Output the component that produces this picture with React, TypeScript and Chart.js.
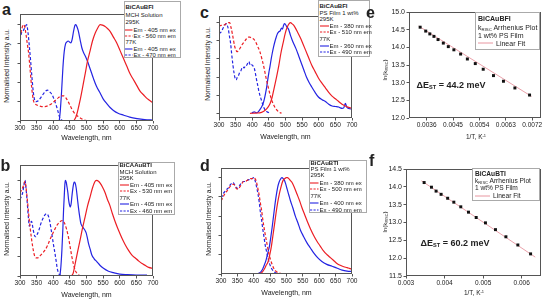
import React, { useEffect, useRef } from "react";
import { Chart, registerables } from "chart.js";
Chart.register(...registerables);

const FONT = "'Liberation Sans', Arial, Helvetica, sans-serif";
const RED = "rgb(236,30,36)";
const BLUE = "rgb(36,36,226)";
const FITC = "rgb(232,150,160)";

type Pt = [number, number];

// ---- tick labels ----
const wavelengthTicks = [300, 350, 400, 450, 500, 550, 600, 650, 700];
const intensityTicks = [0, 0.2, 0.4, 0.6, 0.8, 1.0];
const eXTicks = [0.0036, 0.0045, 0.0054, 0.0063, 0.0072];
const eYTicks = [12, 12.5, 13, 13.5, 14, 14.5, 15];
const fXTicks = [0.003, 0.004, 0.005, 0.006];
const fYTicks = [11.5, 12, 12.5, 13, 13.5, 14, 14.5];

// ---- panel a : BiCAuBFI, MCH solution ----
const aEm295: Pt[] = [[462,0],[470,0.06],[481,0.22],[490,0.38],[496,0.49],[503,0.62],[511,0.73],[518,0.83],[526,0.91],[533,0.96],[541,1.0],[548,0.995],[556,0.98],[563,0.96],[571,0.93],[581,0.87],[591,0.81],[601,0.73],[611,0.65],[621,0.57],[631,0.49],[641,0.43],[651,0.37],[661,0.31],[672,0.27],[680,0.24],[687,0.22],[695,0.2],[700,0.19]];
const aEx295: Pt[] = [[300,0.86],[305,0.95],[310,1.0],[314,0.98],[318,0.9],[322,0.8],[326,0.7],[330,0.55],[335,0.35],[340,0.22],[345,0.18],[355,0.16],[365,0.15],[375,0.15],[385,0.16],[395,0.18],[405,0.21],[415,0.24],[425,0.26],[432,0.26],[440,0.23],[448,0.18],[455,0.13],[462,0.09],[470,0.06],[480,0.035],[490,0.015],[500,0.005],[520,0],[540,0.005],[550,0]];
const aEm77: Pt[] = [[418,0],[421,0.1],[425,0.3],[429,0.55],[433,0.72],[437,0.8],[441,0.82],[445,0.83],[449,0.82],[453,0.81],[457,0.85],[461,0.93],[465,0.99],[468,1.0],[471,0.98],[475,0.94],[481,0.84],[486,0.76],[491,0.71],[497,0.67],[503,0.62],[510,0.55],[515,0.5],[521,0.44],[530,0.36],[541,0.29],[550,0.23],[561,0.18],[571,0.14],[581,0.11],[595,0.08],[612,0.06],[630,0.04],[652,0.025],[675,0.015],[700,0.01]];
const aEx77: Pt[] = [[300,0.84],[305,0.92],[310,0.94],[315,0.97],[320,1.0],[324,0.92],[328,0.78],[332,0.62],[336,0.45],[340,0.3],[344,0.22],[348,0.2],[355,0.21],[362,0.24],[370,0.28],[377,0.31],[383,0.32],[390,0.3],[397,0.27],[403,0.22],[410,0.15],[415,0.09],[420,0.03],[425,0.01],[435,0],[450,0]];

// ---- panel b : BiCAAuBTI, MCH solution ----
const bEm295: Pt[] = [[455,0],[460,0.03],[466,0.13],[473,0.25],[481,0.38],[488,0.5],[496,0.62],[503,0.73],[511,0.83],[518,0.92],[526,0.99],[531,1.0],[536,0.99],[541,0.97],[548,0.93],[556,0.87],[563,0.8],[571,0.73],[578,0.65],[586,0.57],[596,0.48],[606,0.4],[616,0.33],[626,0.27],[636,0.22],[646,0.19],[656,0.16],[667,0.13],[677,0.11],[687,0.09],[700,0.08]];
const bEx295: Pt[] = [[300,0.87],[305,0.9],[310,0.94],[315,0.99],[318,0.93],[322,0.8],[326,0.65],[330,0.52],[335,0.38],[340,0.27],[344,0.21],[348,0.19],[354,0.19],[360,0.21],[368,0.24],[375,0.27],[383,0.32],[390,0.38],[398,0.44],[405,0.49],[413,0.54],[421,0.57],[428,0.58],[434,0.55],[440,0.49],[446,0.4],[451,0.3],[456,0.2],[461,0.12],[466,0.06],[471,0.03],[476,0.01],[485,0]];
const bEm77: Pt[] = [[420,0],[423,0.1],[426,0.27],[429,0.5],[431,0.69],[434,0.9],[436,1.0],[439,0.98],[441,0.94],[444,0.87],[446,0.8],[449,0.74],[451,0.72],[454,0.76],[456,0.83],[460,0.94],[463,0.98],[466,0.97],[469,0.92],[473,0.8],[476,0.71],[480,0.61],[483,0.55],[487,0.52],[491,0.5],[495,0.48],[499,0.45],[503,0.39],[506,0.34],[511,0.28],[516,0.22],[523,0.18],[531,0.15],[541,0.11],[551,0.08],[566,0.05],[581,0.035],[600,0.02],[622,0.014],[650,0.01],[682,0.01]];
const bEx77: Pt[] = [[300,0.8],[304,0.83],[308,0.87],[312,0.95],[315,1.0],[318,0.92],[321,0.8],[325,0.62],[328,0.52],[331,0.55],[335,0.57],[338,0.52],[341,0.46],[344,0.42],[347,0.41],[351,0.43],[357,0.48],[363,0.55],[369,0.6],[375,0.64],[380,0.65],[385,0.63],[389,0.58],[393,0.5],[397,0.41],[401,0.32],[405,0.24],[409,0.15],[412,0.08],[416,0.03],[420,0.01],[425,0]];

// ---- panel c : BiCAuBFI, PS film ----
const cEm295: Pt[] = [[393,0],[410,0.002],[428,0.01],[438,0.03],[448,0.07],[454,0.11],[460,0.18],[466,0.28],[473,0.4],[480,0.53],[486,0.66],[493,0.78],[499,0.88],[505,0.95],[511,0.99],[515,1.0],[519,0.99],[525,0.97],[530,0.94],[537,0.89],[545,0.83],[552,0.77],[560,0.7],[570,0.61],[579,0.53],[589,0.46],[599,0.39],[610,0.33],[620,0.28],[630,0.23],[640,0.19],[650,0.16],[660,0.13],[670,0.1],[680,0.08],[690,0.065],[700,0.055]];
const cEx295: Pt[] = [[300,0.96],[306,0.97],[312,0.97],[318,0.98],[322,0.99],[328,1.0],[332,1.0],[336,0.95],[340,0.88],[344,0.8],[347,0.74],[351,0.7],[354,0.68],[358,0.69],[362,0.71],[368,0.75],[376,0.79],[382,0.82],[388,0.84],[393,0.84],[398,0.83],[404,0.82],[410,0.79],[416,0.74],[423,0.68],[429,0.6],[435,0.51],[441,0.4],[448,0.29],[454,0.2],[460,0.13],[466,0.08],[473,0.04],[480,0.015],[488,0]];
const cEm77: Pt[] = [[398,0],[402,0.01],[406,0.015],[410,0.01],[414,0.005],[418,0.015],[423,0.04],[428,0.07],[432,0.1],[436,0.15],[440,0.22],[443,0.28],[447,0.38],[450,0.45],[453,0.51],[457,0.6],[460,0.66],[464,0.73],[468,0.79],[472,0.84],[476,0.88],[480,0.9],[484,0.91],[488,0.94],[491,0.93],[494,0.97],[497,0.99],[500,0.98],[503,0.96],[507,0.94],[510,0.92],[515,0.86],[520,0.81],[527,0.75],[533,0.7],[540,0.63],[548,0.55],[556,0.47],[563,0.4],[571,0.34],[579,0.29],[589,0.23],[599,0.18],[610,0.15],[620,0.13],[630,0.1],[640,0.08],[650,0.075],[660,0.07],[665,0.06],[670,0.055],[675,0.06],[680,0.11],[684,0.07],[688,0.055],[694,0.05],[700,0.045]];
const cEx77: Pt[] = [[300,0.88],[304,0.89],[307,0.9],[311,0.93],[315,0.96],[319,0.98],[322,0.99],[325,0.97],[328,0.93],[331,0.86],[335,0.77],[338,0.66],[342,0.53],[345,0.45],[349,0.38],[352,0.37],[355,0.4],[359,0.42],[362,0.45],[366,0.47],[369,0.5],[372,0.51],[376,0.5],[380,0.53],[383,0.53],[386,0.55],[390,0.57],[393,0.54],[396,0.55],[400,0.53],[403,0.52],[406,0.5],[410,0.43],[413,0.37],[417,0.3],[420,0.24],[423,0.2],[428,0.14],[433,0.08],[438,0.04],[443,0.02],[448,0.01],[453,0]];

// ---- panel d : BiCAuBTI, PS film ----
const dEm295: Pt[] = [[390,0],[405,0.002],[420,0.007],[426,0.02],[432,0.05],[438,0.09],[444,0.13],[449,0.2],[454,0.29],[459,0.41],[464,0.53],[468,0.63],[473,0.74],[478,0.83],[483,0.9],[487,0.95],[491,0.98],[495,0.99],[499,1.0],[503,1.0],[507,0.99],[512,0.97],[517,0.95],[525,0.89],[532,0.83],[540,0.76],[547,0.69],[555,0.62],[563,0.55],[573,0.47],[583,0.4],[593,0.34],[603,0.29],[613,0.24],[624,0.2],[634,0.17],[644,0.14],[654,0.11],[664,0.09],[675,0.075],[685,0.066],[692,0.058],[700,0.05]];
const dEx295: Pt[] = [[300,0.76],[304,0.78],[308,0.81],[313,0.84],[318,0.86],[324,0.89],[331,0.92],[335,0.93],[339,0.93],[343,0.91],[346,0.89],[351,0.88],[355,0.89],[359,0.91],[364,0.94],[369,0.96],[374,0.96],[379,0.97],[384,0.98],[390,0.99],[395,0.99],[400,1.0],[404,0.99],[407,0.97],[410,0.93],[413,0.88],[417,0.81],[420,0.74],[424,0.66],[427,0.58],[431,0.49],[435,0.41],[440,0.32],[444,0.25],[447,0.2],[451,0.15],[456,0.1],[461,0.06],[466,0.035],[471,0.02],[476,0.014],[483,0.005],[491,0]];
const dEm77: Pt[] = [[395,0],[405,0.002],[415,0.007],[421,0.02],[427,0.05],[432,0.09],[438,0.15],[443,0.22],[448,0.29],[452,0.38],[456,0.48],[460,0.59],[464,0.7],[468,0.8],[473,0.9],[477,0.95],[481,0.98],[486,1.0],[490,0.99],[494,0.97],[498,0.93],[502,0.88],[507,0.82],[512,0.76],[520,0.68],[527,0.6],[535,0.53],[542,0.46],[552,0.39],[563,0.32],[573,0.27],[583,0.22],[595,0.17],[608,0.13],[623,0.1],[639,0.08],[655,0.06],[670,0.04],[685,0.03],[700,0.025]];
const dEx77: Pt[] = [[300,0.79],[304,0.81],[308,0.84],[313,0.86],[318,0.88],[324,0.9],[329,0.93],[333,0.94],[337,0.95],[341,0.93],[346,0.9],[350,0.89],[354,0.9],[359,0.93],[364,0.95],[369,0.96],[374,0.96],[379,0.97],[385,0.98],[390,0.98],[395,0.99],[400,1.0],[404,0.97],[407,0.93],[410,0.88],[413,0.83],[417,0.74],[420,0.65],[424,0.56],[427,0.48],[431,0.39],[435,0.3],[440,0.22],[444,0.16],[449,0.1],[454,0.06],[460,0.03],[466,0.014],[472,0.005],[478,0]];

// ---- panel e : Arrhenius BiCAuBFI ----
const eInvT = [0.00338, 0.00357, 0.00371, 0.00385, 0.00399, 0.00417, 0.00434, 0.00453, 0.00476, 0.00499, 0.00526, 0.00553, 0.00588, 0.00622, 0.00661, 0.00711];
const eLnK = [14.57, 14.46, 14.38, 14.31, 14.22, 14.12, 14.02, 13.93, 13.81, 13.67, 13.54, 13.38, 13.2, 13.04, 12.85, 12.65];
const eFitX = [0.00333, 0.00718];
const eFitY = [14.6, 12.61];

// ---- panel f : Arrhenius BiCAuBTI ----
const fInvT = [0.00347, 0.00366, 0.00378, 0.00391, 0.00408, 0.00424, 0.00442, 0.00462, 0.00482, 0.00506, 0.00532, 0.00559, 0.0059, 0.00623];
const fLnK = [14.12, 13.99, 13.88, 13.79, 13.68, 13.57, 13.44, 13.29, 13.14, 12.99, 12.8, 12.6, 12.37, 12.12];
const fFitX = [0.0034, 0.00635];
const fFitY = [14.17, 12.03];

function spec(data: Pt[], color: string, dashed: boolean) {
  return {
    data: data.map(([x, y]) => ({ x, y })),
    showLine: true,
    borderColor: color,
    backgroundColor: color,
    borderWidth: 1.2,
    borderDash: dashed ? [3, 2] : [],
    pointRadius: 0,
    fill: false,
    cubicInterpolationMode: "monotone",
  };
}
function pts(xs: number[], ys: number[]) {
  return {
    data: xs.map((x, i) => ({ x, y: ys[i] })),
    showLine: false,
    pointStyle: "rect",
    pointRadius: 2.1,
    pointBackgroundColor: "#111",
    pointBorderWidth: 0,
  };
}
function fit(xs: number[], ys: number[]) {
  return {
    data: xs.map((x, i) => ({ x, y: ys[i] })),
    showLine: true,
    borderColor: FITC,
    borderWidth: 0.9,
    pointRadius: 0,
  };
}

const framePlugin = {
  id: "frame",
  afterDraw(chart: any) {
    const { ctx, chartArea: a } = chart;
    ctx.save();
    ctx.strokeStyle = "#555";
    ctx.lineWidth = 1;
    ctx.strokeRect(a.left + 0.5, a.top + 0.5, a.right - a.left - 1, a.bottom - a.top - 1);
    ctx.restore();
  },
};

type Spec = {
  L: number; T: number; R: number; B: number;
  wy: number; hx: number; pt: number; pr: number;
  xMin: number; xMax: number; yMin: number; yMax: number;
  xTicks: number[]; yTicks: number[];
  xFmt: (v: number) => string; yFmt: ((v: number) => string) | null;
  xFont: number; yFont: number;
  datasets: any[];
};

function zeroPad(sc: any) {
  sc.paddingLeft = 0; sc.paddingRight = 0; sc.paddingTop = 0; sc.paddingBottom = 0;
}

function Panel({ s }: { s: Spec }) {
  const ref = useRef<HTMLCanvasElement>(null);
  const w = s.R - s.L + s.wy + s.pr;
  const h = s.B - s.T + s.pt + s.hx;
  useEffect(() => {
    const chart = new Chart(ref.current as HTMLCanvasElement, {
      type: "scatter",
      data: { datasets: s.datasets },
      options: {
        animation: false,
        responsive: false,
        maintainAspectRatio: false,
        devicePixelRatio: 1,
        events: [],
        layout: { padding: { top: s.pt, right: s.pr, left: 0, bottom: 0 } },
        plugins: { legend: { display: false }, tooltip: { enabled: false } },
        scales: {
          x: {
            type: "linear",
            min: s.xMin,
            max: s.xMax,
            afterBuildTicks: (sc: any) => { sc.ticks = s.xTicks.map((v) => ({ value: v })); },
            afterFit: (sc: any) => { sc.height = s.hx; zeroPad(sc); },
            ticks: {
              autoSkip: false, maxRotation: 0, minRotation: 0, padding: 1,
              color: "#222", font: { family: FONT, size: s.xFont },
              callback: (v: any) => s.xFmt(Number(v)),
            },
            grid: { display: true, drawOnChartArea: false, drawTicks: true, tickLength: 2.5, tickColor: "#555", lineWidth: 1 },
            border: { display: false },
          },
          y: {
            type: "linear",
            min: s.yMin,
            max: s.yMax,
            afterBuildTicks: (sc: any) => { sc.ticks = s.yTicks.map((v) => ({ value: v })); },
            afterFit: (sc: any) => { sc.width = s.wy; zeroPad(sc); },
            ticks: {
              display: s.yFmt !== null, autoSkip: false, padding: 1.5,
              color: "#222", font: { family: FONT, size: s.yFont },
              callback: (v: any) => (s.yFmt ? s.yFmt(Number(v)) : ""),
            },
            grid: { display: true, drawOnChartArea: false, drawTicks: true, tickLength: 2.5, tickColor: "#555", lineWidth: 1 },
            border: { display: false },
          },
        },
      } as any,
      plugins: [framePlugin],
    });
    return () => chart.destroy();
  }, []);
  return (
    <canvas
      ref={ref}
      width={w}
      height={h}
      style={{ position: "absolute", left: s.L - s.wy, top: s.T - s.pt, width: w, height: h }}
    />
  );
}

const nmFmt = (v: number) => String(Math.round(v));
const specBase = { wy: 6, hx: 16, pt: 3, pr: 8, xMin: 300, xMax: 700, xTicks: wavelengthTicks, yTicks: intensityTicks, xFmt: nmFmt, yFmt: null, xFont: 6.6, yFont: 6 };

const panels: Spec[] = [
  { ...specBase, L: 20, T: 14, R: 153, B: 121, yMin: 0, yMax: 1.11,
    datasets: [spec(aEm295, RED, false), spec(aEx295, RED, true), spec(aEm77, BLUE, false), spec(aEx77, BLUE, true)] },
  { ...specBase, L: 20, T: 165, R: 153, B: 276, yMin: 0, yMax: 1.16,
    datasets: [spec(bEm295, RED, false), spec(bEx295, RED, true), spec(bEm77, BLUE, false), spec(bEx77, BLUE, true)] },
  { ...specBase, L: 219, T: 16, R: 352, B: 118, yMin: -0.052, yMax: 1.074,
    datasets: [spec(cEm295, RED, false), spec(cEx295, RED, true), spec(cEm77, BLUE, false), spec(cEx77, BLUE, true)] },
  { ...specBase, L: 221, T: 168, R: 352, B: 274, yMin: 0, yMax: 1.1,
    datasets: [spec(dEm295, RED, false), spec(dEx295, RED, true), spec(dEm77, BLUE, false), spec(dEx77, BLUE, true)] },
  { L: 409, T: 12, R: 541, B: 118, wy: 22, hx: 16, pt: 6, pr: 4,
    xMin: 0.003, xMax: 0.0075, yMin: 12, yMax: 15, xTicks: eXTicks, yTicks: eYTicks,
    xFmt: (v) => v.toFixed(4), yFmt: (v) => v.toFixed(1), xFont: 6.5, yFont: 7,
    datasets: [pts(eInvT, eLnK), fit(eFitX, eFitY)] },
  { L: 406, T: 169, R: 541, B: 276, wy: 22, hx: 16, pt: 6, pr: 4,
    xMin: 0.003, xMax: 0.0065, yMin: 11.5, yMax: 14.5, xTicks: fXTicks, yTicks: fYTicks,
    xFmt: (v) => v.toFixed(3), yFmt: (v) => v.toFixed(1), xFont: 6.5, yFont: 7,
    datasets: [pts(fInvT, fLnK), fit(fFitX, fFitY)] },
];

function Txt(props: { x: number; y: number; size: number; bold?: boolean; align?: "left" | "center"; rot?: boolean; children: any }) {
  const { x, y, size, bold, align = "center", rot, children } = props;
  const transform = rot ? "translate(-50%,-50%) rotate(-90deg)" : align === "center" ? "translate(-50%,-50%)" : "translate(0,-50%)";
  return (
    <div style={{ position: "absolute", left: x, top: y, fontSize: size, lineHeight: `${size}px`, fontWeight: bold ? 700 : 400, whiteSpace: "nowrap", transform }}>
      {children}
    </div>
  );
}

const Sub = ({ children }: { children: any }) => (
  <span style={{ fontSize: "0.62em", verticalAlign: "-0.3em", lineHeight: 0 }}>{children}</span>
);
const Sup = ({ children }: { children: any }) => (
  <span style={{ fontSize: "0.62em", verticalAlign: "0.5em", lineHeight: 0 }}>{children}</span>
);

type Row = { y: number; text: string; bold?: boolean; color?: string; dashed?: boolean };

function SpecLegend({ L, T, R, B, sx, tx, rows, size }: { L: number; T: number; R: number; B: number; sx: number; tx: number; rows: Row[]; size: number }) {
  return (
    <>
      <div style={{ position: "absolute", left: L, top: T, width: R - L, height: B - T, border: "1px solid #aaa", background: "#fff", boxSizing: "border-box" }} />
      {rows.map((r, i) =>
        r.color ? (
          <React.Fragment key={i}>
            <svg style={{ position: "absolute", left: sx, top: r.y - 2 }} width={tx - sx - 1} height={4}>
              <line x1={0} y1={2} x2={tx - sx - 1} y2={2} stroke={r.color} strokeWidth={1.1} strokeDasharray={r.dashed ? "2.2,1.3" : undefined} />
            </svg>
            <Txt x={tx} y={r.y} size={size} align="left">{r.text}</Txt>
          </React.Fragment>
        ) : (
          <Txt key={i} x={L + 1.5} y={r.y} size={size} bold={r.bold} align="left">{r.text}</Txt>
        )
      )}
    </>
  );
}

const legA: Row[] = [
  { y: 6.5, text: "BiCAuBFI", bold: true }, { y: 14.5, text: "MCH Solution" }, { y: 21.5, text: "295K" },
  { y: 29.5, text: "Em - 405 nm ex", color: RED }, { y: 35.5, text: "Ex - 560 nm em", color: RED, dashed: true },
  { y: 42, text: "77K" }, { y: 48.7, text: "Em - 405 nm ex", color: BLUE }, { y: 55, text: "Ex - 470 nm em", color: BLUE, dashed: true },
];
const legB: Row[] = [
  { y: 165, text: "BiCAAuBTI", bold: true }, { y: 171.7, text: "MCH Solution" }, { y: 178.3, text: "295K" },
  { y: 184.5, text: "Em - 405 nm ex", color: RED }, { y: 190.7, text: "Ex - 530 nm em", color: RED, dashed: true },
  { y: 197.7, text: "77K" }, { y: 204, text: "Em - 405 nm ex", color: BLUE }, { y: 211, text: "Ex - 460 nm em", color: BLUE, dashed: true },
];
const legC: Row[] = [
  { y: 6, text: "BiCAuBFI", bold: true }, { y: 12.7, text: "PS Film 1 wt%" }, { y: 18.9, text: "295K" },
  { y: 25.7, text: "Em - 380 nm ex", color: RED }, { y: 31.9, text: "Ex - 510 nm em", color: RED, dashed: true },
  { y: 39.3, text: "77K" }, { y: 46, text: "Em - 360 nm ex", color: BLUE }, { y: 52.3, text: "Ex - 490 nm em", color: BLUE, dashed: true },
];
const legD: Row[] = [
  { y: 162.7, text: "BiCAuBTI", bold: true }, { y: 168.5, text: "PS Film 1 wt%" }, { y: 174.5, text: "295K" },
  { y: 182.7, text: "Em - 380 nm ex", color: RED }, { y: 189, text: "Ex - 500 nm em", color: RED, dashed: true },
  { y: 196, text: "77K" }, { y: 203.3, text: "Em - 400 nm ex", color: BLUE }, { y: 210, text: "Ex - 490 nm em", color: BLUE, dashed: true },
];

function ArrLegend({ L, T, R, B, rows, name, size }: { L: number; T: number; R: number; B: number; rows: number[]; name: string; size: number }) {
  return (
    <>
      <div style={{ position: "absolute", left: L, top: T, width: R - L, height: B - T, border: "1px solid #aaa", background: "#fff", boxSizing: "border-box" }} />
      <Txt x={L + 3} y={rows[0]} size={size} bold align="left">{name}</Txt>
      <Txt x={L + 3} y={rows[1]} size={size} align="left">k<Sub>RISC</Sub> Arrhenius Plot</Txt>
      <Txt x={L + 3} y={rows[2]} size={size} align="left">1 wt% PS Film</Txt>
      <svg style={{ position: "absolute", left: L + 3, top: rows[3] - 2 }} width={15} height={4}>
        <line x1={0} y1={2} x2={15} y2={2} stroke={FITC} strokeWidth={1} />
      </svg>
      <Txt x={L + 21} y={rows[3]} size={size} align="left">Linear Fit</Txt>
    </>
  );
}

export default function App() {
  return (
    <div style={{ position: "absolute", left: 0, top: 0, width: 545, height: 301, background: "#fff", overflow: "hidden", fontFamily: FONT, color: "#222" }}>
      {panels.map((p, i) => (
        <Panel key={i} s={p} />
      ))}

      <SpecLegend L={124} T={1} R={181} B={58} sx={125} tx={133.5} rows={legA} size={6} />
      <SpecLegend L={118} T={162} R={175} B={215} sx={119.5} tx={130} rows={legB} size={6} />
      <SpecLegend L={318} T={0} R={370} B={57} sx={319.5} tx={329.5} rows={legC} size={6} />
      <SpecLegend L={309} T={160} R={367} B={213} sx={310} tx={319.5} rows={legD} size={6} />
      <ArrLegend L={475} T={12} R={540} B={50} rows={[18, 26.5, 35, 43]} name="BiCAuBFI" size={7} />
      <ArrLegend L={472} T={168} R={540} B={201} rows={[174, 180.8, 188.3, 195.6]} name="BiCAuBTI" size={6.6} />

      {/* axis titles */}
      <Txt x={86.5} y={136.5} size={7}>Wavelength, nm</Txt>
      <Txt x={86.5} y={293.5} size={7}>Wavelength, nm</Txt>
      <Txt x={285.5} y={135.5} size={7}>Wavelength, nm</Txt>
      <Txt x={286.5} y={291.5} size={7}>Wavelength, nm</Txt>
      <Txt x={7.3} y={66} size={6.7} rot>Normalised Intensity a.u.</Txt>
      <Txt x={7.3} y={219} size={6.7} rot>Normalised Intensity a.u.</Txt>
      <Txt x={208.3} y={64} size={6.7} rot>Normalised Intensity a.u.</Txt>
      <Txt x={208.5} y={219} size={6.7} rot>Normalised Intensity a.u.</Txt>
      <Txt x={476} y={136.5} size={6.5}>1/T, K<Sup>-1</Sup></Txt>
      <Txt x={474} y={292.5} size={6.5}>1/T, K<Sup>-1</Sup></Txt>
      <Txt x={385} y={70} size={6.2} rot>ln(k<Sub>RISC</Sub>)</Txt>
      <Txt x={385} y={222} size={6.2} rot>ln(k<Sub>RISC</Sub>)</Txt>

      {/* Delta E labels */}
      <Txt x={451} y={85} size={9} bold>ΔE<Sub>ST</Sub> = 44.2 meV</Txt>
      <Txt x={455} y={242.5} size={9} bold>ΔE<Sub>ST</Sub> = 60.2 meV</Txt>

      {/* panel letters */}
      <Txt x={2} y={9.5} size={16} bold align="left">a</Txt>
      <Txt x={0.5} y={166} size={16} bold align="left">b</Txt>
      <Txt x={200} y={12.8} size={16} bold align="left">c</Txt>
      <Txt x={200} y={166.2} size={16} bold align="left">d</Txt>
      <Txt x={366} y={12.8} size={16} bold align="left">e</Txt>
      <Txt x={369} y={160.5} size={16} bold align="left">f</Txt>
    </div>
  );
}
